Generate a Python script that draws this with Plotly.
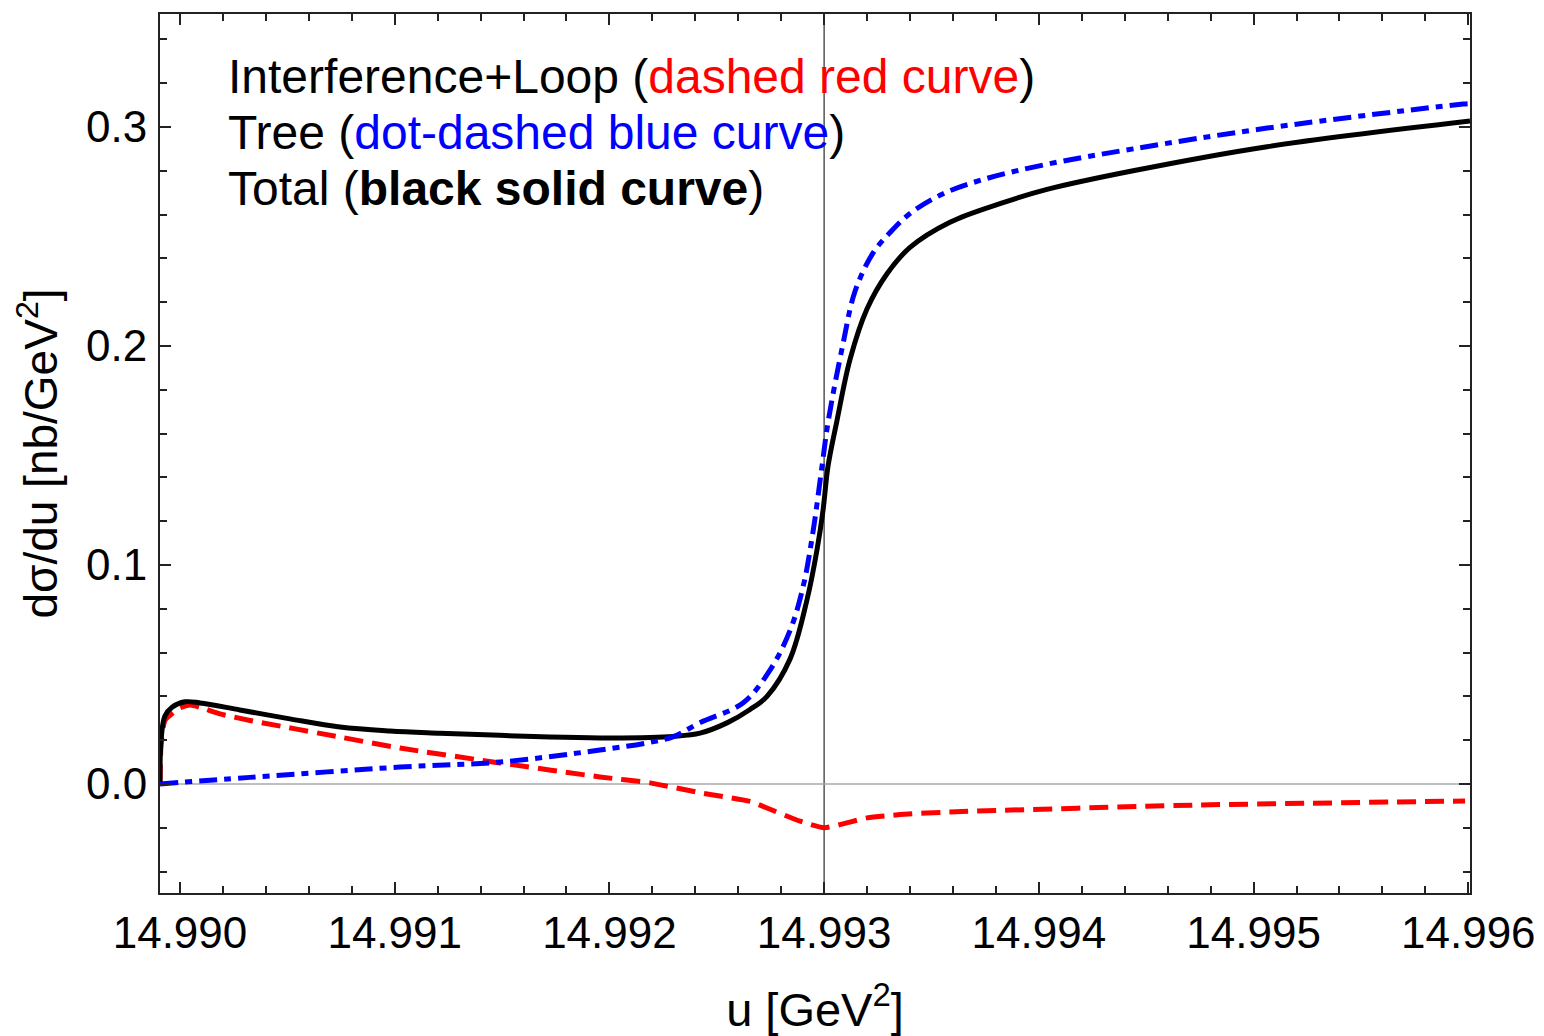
import plotly.graph_objects as go

# ---- data ----
u_total = [14.989907, 14.989912, 14.989930, 14.989963, 14.990023, 14.990093, 14.990279,
           14.990512, 14.990745, 14.990978, 14.991211, 14.991490, 14.991723, 14.991956,
           14.992189, 14.992296, 14.992422, 14.992550, 14.992655, 14.992734, 14.992841,
           14.992920, 14.992967, 14.992995, 14.993018, 14.993060, 14.993121, 14.993200,
           14.993293, 14.993400, 14.993586, 14.993819, 14.994038, 14.994439, 14.995063,
           14.996008]
v_total = [0.0, 0.020, 0.031, 0.035, 0.0375, 0.037, 0.0338,
           0.0297, 0.026, 0.0242, 0.0232, 0.0222, 0.0214, 0.0210,
           0.0212, 0.0217, 0.0232, 0.028, 0.034, 0.040, 0.057,
           0.084, 0.107, 0.125, 0.145, 0.166, 0.194, 0.217,
           0.233, 0.245, 0.2565, 0.265, 0.2715, 0.2800, 0.2910,
           0.3027]

u_tree = [14.989907, 14.990326, 14.991025, 14.991490, 14.991956, 14.992189, 14.992296,
          14.992422, 14.992622, 14.992748, 14.992841, 14.992902, 14.992948, 14.992990,
          14.993018, 14.993088, 14.993144, 14.993228, 14.993307, 14.993400, 14.993554,
          14.993740, 14.994038, 14.994439, 14.995063, 14.995976, 14.996008]
v_tree = [0.0, 0.003, 0.0077, 0.010, 0.0155, 0.019, 0.0215,
          0.028, 0.037, 0.052, 0.070, 0.090, 0.115, 0.145,
          0.165, 0.201, 0.225, 0.2425, 0.2518, 0.2605, 0.2695,
          0.2760, 0.2830, 0.2900, 0.2995, 0.3105, 0.3107]

u_loop = [14.989907, 14.989912, 14.989930, 14.990000, 14.990047, 14.990093, 14.990186,
          14.990326, 14.990745, 14.991025, 14.991490, 14.991956, 14.992189, 14.992422,
          14.992655, 14.992734, 14.992888, 14.993000, 14.993200, 14.993354, 14.993586,
          14.994751, 14.995985]
v_loop = [0.0, 0.018, 0.029, 0.0347, 0.036, 0.035, 0.032,
          0.029, 0.0214, 0.0164, 0.0096, 0.0032, 0.0005, -0.004,
          -0.008, -0.011, -0.017, -0.020, -0.0155, -0.014, -0.0128,
          -0.0096, -0.0078]

x_ticks = [14.990, 14.991, 14.992, 14.993, 14.994, 14.995, 14.996]
y_ticks = [0.0, 0.1, 0.2, 0.3]

FONT = "Liberation Sans, Arial, sans-serif"

fig = go.Figure()
fig.add_trace(go.Scatter(x=u_loop, y=v_loop, mode="lines",
                         line=dict(color="#ff0000", width=5, shape="spline", smoothing=0.5,
                                   dash="19px,9px")))
fig.add_trace(go.Scatter(x=u_total, y=v_total, mode="lines",
                         line=dict(color="#000000", width=5, shape="spline", smoothing=1.0)))
fig.add_trace(go.Scatter(x=u_tree, y=v_tree, mode="lines",
                         line=dict(color="#0000ff", width=5, shape="spline", smoothing=1.0,
                                   dash="18px,7px,7px,7px")))

# reference lines
fig.add_shape(type="line", xref="x", yref="paper", x0=14.993, x1=14.993, y0=0, y1=1,
              line=dict(color="#555555", width=1.5), layer="below")
fig.add_shape(type="line", xref="paper", yref="y", x0=0, x1=1, y0=0, y1=0,
              line=dict(color="#aaaaaa", width=1.5), layer="below")

axis_common = dict(
    showline=True, linecolor="#222222", linewidth=2, mirror="ticks",
    ticks="inside", ticklen=11, tickwidth=2, tickcolor="#222222",
    showgrid=False, zeroline=False, automargin=False,
    tickfont=dict(family=FONT, size=44, color="#000000"),
)

fig.update_xaxes(
    range=[14.989907, 14.996008], tickvals=x_ticks,
    ticktext=[f"{t:.3f}" for t in x_ticks],
    minor=dict(ticks="inside", ticklen=7, tickwidth=1.5, tickcolor="#222222", dtick=0.0002,
               tick0=14.990, showgrid=False),
    title=dict(text="u [GeV<sup>2</sup>]", font=dict(family=FONT, size=47, color="#000000"),
               standoff=38),
    ticklabelstandoff=0,
    **axis_common,
)
fig.update_yaxes(
    range=[-0.0498, 0.3516], tickvals=y_ticks,
    ticktext=[f"{t:.1f}" for t in y_ticks],
    minor=dict(ticks="inside", ticklen=7, tickwidth=1.5, tickcolor="#222222", dtick=0.02,
               tick0=0.0, showgrid=False),
    title=dict(text="dσ/du [nb/GeV<sup>2</sup>]", font=dict(family=FONT, size=46, color="#000000"),
               standoff=14),
    ticklabelstandoff=2,
    **axis_common,
)

ann_font = dict(family=FONT, size=48, color="#000000")
lines = [
    ("Interference+Loop (<span style='color:#ff0000'>dashed red curve</span>)", 0.929),
    ("Tree (<span style='color:#0000ff'>dot-dashed blue curve</span>)", 0.865),
    ("Total (<b>black solid curve</b>)", 0.801),
]
for txt, yy in lines:
    fig.add_annotation(text=txt, xref="paper", yref="paper", x=0.0505, y=yy,
                       xanchor="left", yanchor="middle", showarrow=False, font=ann_font)

fig.update_layout(
    width=1544, height=1036,
    margin=dict(l=160, r=74, t=14, b=143),
    paper_bgcolor="white", plot_bgcolor="white",
    showlegend=False,
)

fig.write_html("out.html")
